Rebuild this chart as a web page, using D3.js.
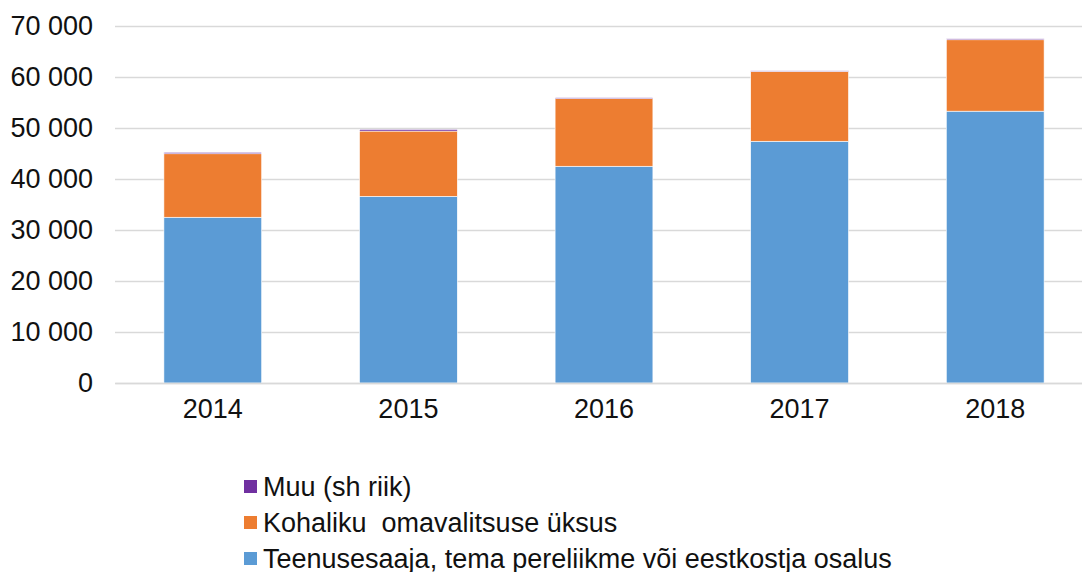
<!DOCTYPE html>
<html>
<head>
<meta charset="utf-8">
<script src="https://cdn.jsdelivr.net/npm/d3@7"></script>
<style>
  body { margin: 0; background: #fff; }
  svg { display: block; }
  text { font-family: "Liberation Sans", Arial, sans-serif; fill: #111; }
</style>
</head>
<body>
<div id="chart"></div>
<script>
const years = ["2014", "2015", "2016", "2017", "2018"];
const teenusesaaja = [32500, 36600, 42500, 47400, 53300];
const kohalik = [12450, 12800, 13250, 13700, 14000];
const muu = [280, 330, 200, 120, 200];
const yTicks = [0, 10000, 20000, 30000, 40000, 50000, 60000, 70000];

const seriesNames = ["Teenusesaaja, tema pereliikme või eestkostja osalus", "Kohaliku  omavalitsuse üksus", "Muu (sh riik)"];
const seriesColors = ["#5b9bd5", "#ed7d31", "#7030a0"];

const width = 1082, height = 572;
const plot = {left: 115, right: 1093, top: 26, bottom: 383};
const fontSize = 27;

const svg = d3.select("#chart").append("svg")
    .attr("width", width)
    .attr("height", height);

const rows = years.map((y, i) => ({year: y, s0: teenusesaaja[i], s1: kohalik[i], s2: muu[i]}));
const stacked = d3.stack().keys(["s0", "s1", "s2"])(rows);

var xScale = d3.scaleBand()
    .domain(years)
    .range([plot.left, plot.right])
    .paddingInner(0.5)
    .paddingOuter(0.25);

var yScale = d3.scaleLinear()
    .domain([0, 70000])
    .range([plot.bottom, plot.top]);

const fmt = v => d3.format(",")(v).replace(/,/g, " ");

// gridlines + y labels
svg.append("g")
    .attr("transform", "translate(" + plot.left + ",0)")
    .call(d3.axisLeft(yScale).tickValues(yTicks).tickSize(-(plot.right - plot.left)).tickPadding(22).tickFormat(fmt))
    .call(g => g.select(".domain").remove())
    .call(g => g.selectAll(".tick line").attr("stroke", "#d9d9d9").attr("stroke-width", 1.5))
    .call(g => g.selectAll(".tick text")
        .attr("font-size", fontSize)
        .attr("font-family", "Liberation Sans, Arial, sans-serif")
        .attr("fill", "#111"));

// bars
svg.append("g").selectAll("g")
    .data(stacked)
    .join("g")
      .attr("fill", (d, i) => seriesColors[i])
    .selectAll("rect")
    .data(d => d)
    .join("rect")
      .attr("x", d => xScale(d.data.year))
      .attr("y", d => yScale(d[1]))
      .attr("width", xScale.bandwidth())
      .attr("height", d => yScale(d[0]) - yScale(d[1]))
      .attr("stroke", "#fff")
      .attr("stroke-width", 0.6);

// x axis
svg.append("g")
    .attr("transform", "translate(0," + plot.bottom + ")")
    .call(d3.axisBottom(xScale).tickSize(0).tickPadding(16))
    .call(g => g.select(".domain").attr("stroke", "#d9d9d9").attr("stroke-width", 1.5))
    .call(g => g.selectAll(".tick text")
        .attr("font-size", fontSize)
        .attr("font-family", "Liberation Sans, Arial, sans-serif")
        .attr("fill", "#111"));

// legend (reverse order)
const legendOrder = [2, 1, 0];
const legend = svg.append("g").attr("transform", "translate(244,480)");
legendOrder.forEach((si, k) => {
    const row = legend.append("g").attr("transform", "translate(0," + (k * 36) + ")");
    row.append("rect")
        .attr("width", 13)
        .attr("height", 13)
        .attr("fill", seriesColors[si]);
    row.append("text")
        .attr("x", 19)
        .attr("y", 6.5)
        .attr("dy", "0.36em")
        .attr("font-size", fontSize)
        .style("white-space", "pre")
        .text(seriesNames[si]);
});
</script>
</body>
</html>
